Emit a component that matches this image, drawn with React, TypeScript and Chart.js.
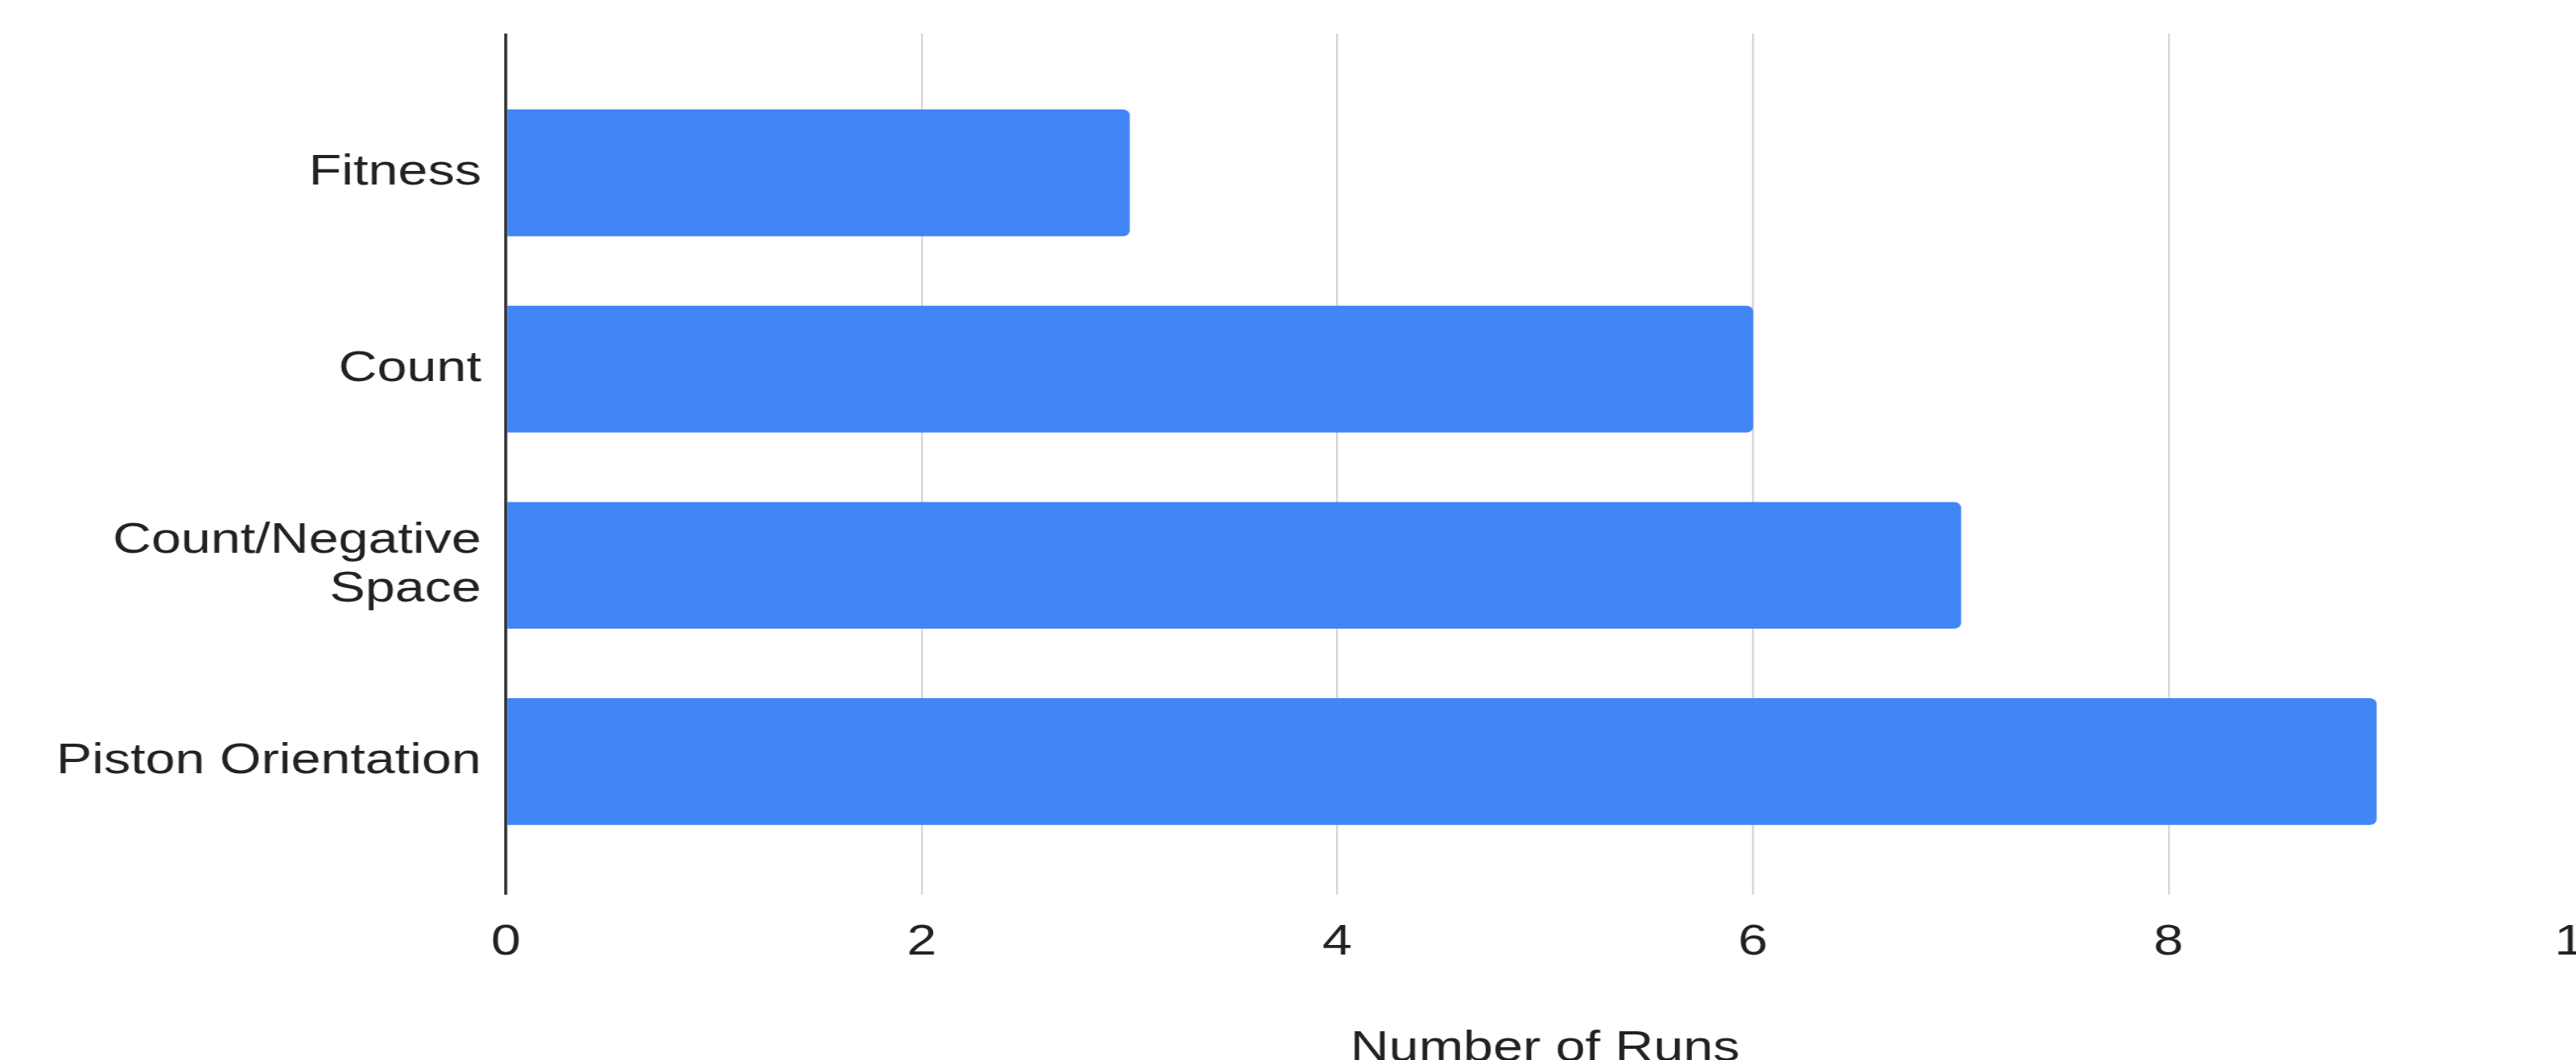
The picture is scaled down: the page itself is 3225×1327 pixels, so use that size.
import React, { useEffect, useRef } from "react";
import { Chart, registerables } from "chart.js";

Chart.register(...registerables);

const categories: (string | string[])[] = ["Fitness", "Count", ["Count/Negative", "Space"], "Piston Orientation"];
const runs: number[] = [3, 6, 7, 9];
const xTicks: number[] = [0, 2, 4, 6, 8, 10];
const xTitle = "Number of Runs";

const STRETCH = 1.24;
const CW = 2689;
const CH = 1360;
const AXIS_LEFT = 633.5 / STRETCH;
const AREA_TOP = 42;
const AREA_BOTTOM = 1120;

export default function App() {
  const ref = useRef<HTMLCanvasElement | null>(null);

  useEffect(() => {
    if (!ref.current) return;
    const font = { family: "'Liberation Sans', Arial, sans-serif", size: 54, lineHeight: 1.13 };
    const chart = new Chart(ref.current, {
      type: "bar",
      data: {
        datasets: [
          {
            data: runs.map((v, i) => ({ x: v, y: i })),
            backgroundColor: "#4285f4",
            borderWidth: 0,
            borderRadius: 7,
            borderSkipped: "start",
            barThickness: 158,
          },
        ],
      },
      options: {
        indexAxis: "y",
        responsive: false,
        animation: false,
        devicePixelRatio: 1,
        layout: { padding: { top: AREA_TOP, right: 80, left: 0, bottom: 0 } },
        plugins: { legend: { display: false }, tooltip: { enabled: false }, title: { display: false } },
        scales: {
          x: {
            type: "linear",
            position: "bottom",
            min: 0,
            max: 10,
            offset: false,
            afterBuildTicks: (scale: any) => {
              scale.ticks = xTicks.map((v) => ({ value: v }));
            },
            afterFit: (scale: any) => {
              scale.height = CH - AREA_BOTTOM;
              scale.paddingLeft = 0;
              scale.paddingRight = 0;
            },
            border: { display: false },
            grid: {
              offset: false,
              drawTicks: false,
              color: (ctx: any) => (ctx.tick && ctx.tick.value === 0 ? "#333333" : "#cccccc"),
              lineWidth: (ctx: any) => (ctx.tick && ctx.tick.value === 0 ? 3.2 : 1.6),
            },
            ticks: {
              padding: 30,
              color: "#222222",
              font,
              callback: (v: any) => String(v),
            },
            title: {
              display: true,
              text: xTitle,
              color: "#222222",
              font: { family: "'Liberation Sans', Arial, sans-serif", size: 54, lineHeight: 1.2 },
              padding: { top: 0, bottom: 14 },
            },
          },
          y: {
            type: "linear",
            position: "left",
            reverse: true,
            offset: false,
            min: -0.71,
            max: 3.678,
            afterBuildTicks: (scale: any) => {
              scale.ticks = categories.map((_, i) => ({ value: i }));
            },
            afterFit: (scale: any) => {
              scale.width = AXIS_LEFT;
              scale.paddingTop = 0;
              scale.paddingBottom = 0;
            },
            border: { display: false },
            grid: { display: false, drawTicks: false, offset: false },
            ticks: {
              padding: 25,
              color: "#222222",
              font,
              autoSkip: false,
              callback: (v: any) => categories[v as number] ?? "",
            },
          },
        },
      },
    } as any);
    return () => chart.destroy();
  }, []);

  return (
    <div
      style={{
        position: "fixed",
        left: 0,
        top: 0,
        width: 3225,
        height: 1327,
        overflow: "hidden",
        background: "#ffffff",
      }}
    >
      <div style={{ width: CW, height: CH, transform: `scaleX(${STRETCH})`, transformOrigin: "0 0" }}>
        <canvas ref={ref} width={CW} height={CH} style={{ display: "block" }} />
      </div>
    </div>
  );
}
